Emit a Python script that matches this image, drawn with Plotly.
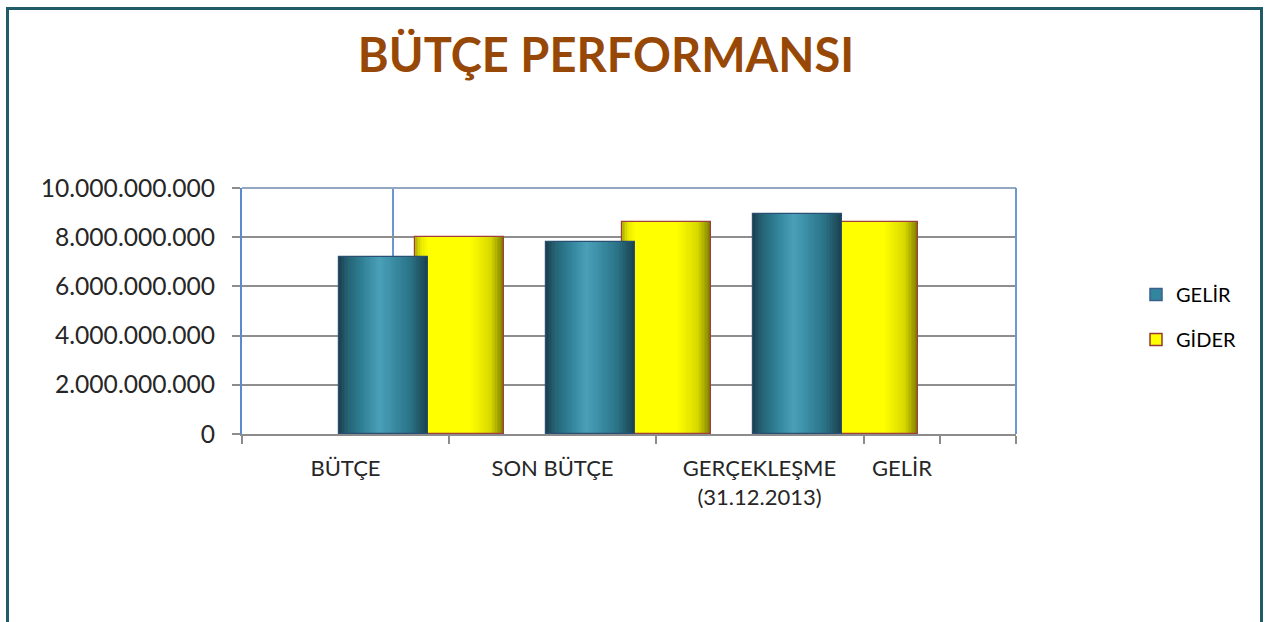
import plotly.graph_objects as go

# ---------------- data ----------------
categories = ["BÜTÇE", "SON BÜTÇE", "GERÇEKLEŞME<br>(31.12.2013)"]
extra_label = "GELİR"
gelir = [7.2e9, 7.8e9, 8.95e9]
gider = [8.0e9, 8.6e9, 8.6e9]
y_ticks = [0, 2e9, 4e9, 6e9, 8e9, 10e9]
series_names = ["GELİR", "GİDER"]

# ---------------- layout helpers ----------------
W, H = 1274, 622
L, R, T, B = 242, 1016, 188, 434
U = 207.0  # pixels per category slot
xr = (R - L) / U
def px2x(p):
    return (p - L) / U
def px2paperx(p):
    return (p - L) / (R - L)
def px2papery(p):
    return (B - p) / (B - T)

cat_x = [i + 0.5 for i in range(len(categories))]
tick_bounds = [0, 1, 2, px2x(864), px2x(940), px2x(1016)]
label_pos = cat_x + [px2x(902)]
label_txt = categories + [extra_label]

bar_w = 0.43
gelir_off = -0.031
gider_off = 0.336

def lerp(c1, c2, t):
    a = [int(c1[i:i + 2], 16) for i in (1, 3, 5)]
    b = [int(c2[i:i + 2], 16) for i in (1, 3, 5)]
    return "#" + "".join(f"{round(a[k] + (b[k] - a[k]) * t):02x}" for k in range(3))

def grad(stops, t):
    for (p0, c0), (p1, c1) in zip(stops, stops[1:]):
        if p0 <= t <= p1:
            return lerp(c0, c1, (t - p0) / (p1 - p0) if p1 > p0 else 0)
    return stops[-1][1]

gelir_stops = [(0.0, "#1b404e"), (0.08, "#245e70"), (0.25, "#2e7f94"),
               (0.45, "#4aa0b8"), (0.6, "#3b8ea6"), (0.8, "#2a7386"),
               (0.94, "#1f4e5e"), (1.0, "#1a3d4b")]
gider_stops = [(0.0, "#b0b000"), (0.06, "#e6e600"), (0.15, "#ffff00"),
               (0.62, "#ffff00"), (0.85, "#d8d800"), (1.0, "#787800")]

N = 60
fig = go.Figure()

def add_cyl(vals, off, stops, line_color):
    for k in range(N):
        t0 = k / N
        fig.add_trace(go.Bar(
            x=cat_x, y=vals, width=bar_w * (1 - t0), offset=off + bar_w * t0,
            marker=dict(color=grad(stops, (k + 0.5) / N), line=dict(width=0)),
            showlegend=False, hoverinfo="skip"))
    fig.add_trace(go.Bar(
        x=cat_x, y=vals, width=bar_w, offset=off,
        marker=dict(color="rgba(0,0,0,0)", line=dict(color=line_color, width=1.2)),
        showlegend=False, hoverinfo="skip"))

add_cyl(gider, gider_off, gider_stops, "#a0403a")
add_cyl(gelir, gelir_off, gelir_stops, "#2b4f73")

# legend entries
fig.add_trace(go.Bar(x=[None], y=[None], name=series_names[0], legendgroup="a",
                     marker=dict(color="#31859c", line=dict(color="#3a5f8f", width=1.5))))
fig.add_trace(go.Bar(x=[None], y=[None], name=series_names[1], legendgroup="b",
                     marker=dict(color="#ffff00", line=dict(color="#953735", width=1.5))))

font_family = "Lato, Open Sans, sans-serif"

shapes = [
    # outer frame
    dict(type="rect", xref="paper", yref="paper",
         x0=px2paperx(7.5), x1=px2paperx(1261.5), y0=px2papery(660), y1=px2papery(8.5),
         line=dict(color="#215a68", width=3), layer="below"),
    # odd vertical blue line inside plot
    dict(type="line", xref="x", yref="paper", x0=px2x(393), x1=px2x(393), y0=0, y1=1,
         line=dict(color="#6f97cf", width=2), layer="below"),
    # top & right border
    dict(type="line", xref="paper", yref="paper", x0=0, x1=1, y0=1, y1=1,
         line=dict(color="#93a7c3", width=2), layer="above"),
    dict(type="line", xref="paper", yref="paper", x0=1, x1=1, y0=0, y1=1,
         line=dict(color="#6f97cf", width=2), layer="above"),
]

fig.update_layout(
    width=W, height=H,
    margin=dict(l=L, r=W - R, t=T, b=H - B, autoexpand=False),
    paper_bgcolor="white", plot_bgcolor="white",
    barmode="overlay", bargap=0, bargroupgap=0,
    separators=",.",
    title=dict(text="<b>BÜTÇE PERFORMANSI</b>", x=606 / W, xanchor="center",
               y=1 - 56 / H, yanchor="middle", yref="container",
               font=dict(family=font_family, size=47, color="#974806")),
    xaxis=dict(range=[0, xr], tickvals=tick_bounds, ticktext=[""] * len(tick_bounds),
               ticks="outside", ticklen=8, tickwidth=2, tickcolor="#8c8c8c",
               showgrid=False, zeroline=False, showline=True, linecolor="#8c8c8c",
               linewidth=2, fixedrange=True),
    xaxis2=dict(range=[0, xr], overlaying="x", anchor="y", side="bottom",
                tickvals=label_pos, ticktext=label_txt, ticks="", showgrid=False,
                zeroline=False, showline=False, ticklabelstandoff=19,
                tickfont=dict(family=font_family, size=22, color="#262626")),
    yaxis=dict(range=[0, 10e9], tickvals=y_ticks, tickformat=",d",
               ticks="outside", ticklen=8, tickwidth=2, tickcolor="#8c8c8c",
               showgrid=True, gridcolor="#8e8e8e", gridwidth=2,
               zeroline=False, showline=True, linecolor="#5b8ad0", linewidth=2,
               ticklabelstandoff=12,
               tickfont=dict(family=font_family, size=24.6, color="#262626")),
    legend=dict(x=px2paperx(1136), xanchor="left", y=px2papery(317), yanchor="middle",
                font=dict(family=font_family, size=20, color="#000000"),
                tracegroupgap=16, bgcolor="rgba(0,0,0,0)"),
    shapes=shapes,
    showlegend=True,
)
# a dummy trace on xaxis2 so the axis renders
fig.add_trace(go.Scatter(x=[None], y=[None], xaxis="x2", showlegend=False, hoverinfo="skip"))

fig.write_html("out.html")
